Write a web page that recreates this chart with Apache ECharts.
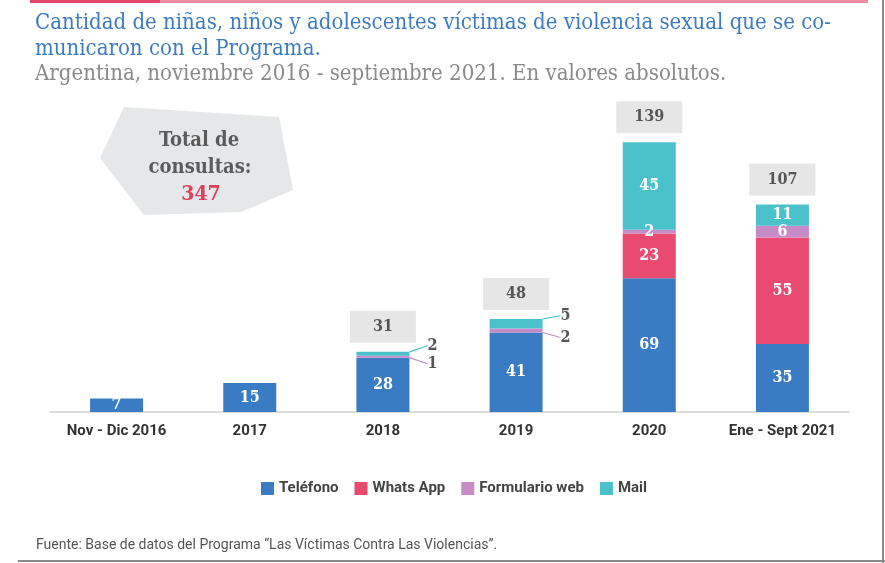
<!DOCTYPE html>
<html>
<head>
<meta charset="utf-8">
<script src="https://cdn.jsdelivr.net/npm/echarts@6/dist/echarts.min.js"></script>
<style>
html,body{margin:0;padding:0;background:#fff;}
#c{width:885px;height:563px;}
</style>
</head>
<body>
<div id="c"></div>
<script>
const categories = ['Nov - Dic 2016', '2017', '2018', '2019', '2020', 'Ene - Sept 2021'];
const telefono = [7, 15, 28, 41, 69, 35];
const whatsapp = [0, 0, 0, 0, 23, 55];
const formulario = [0, 0, 1, 2, 2, 6];
const mail = [0, 0, 2, 5, 45, 11];
const seriesNames = ['Teléfono', 'Whats App', 'Formulario web', 'Mail'];

const totals = categories.map((c, i) => telefono[i] + whatsapp[i] + formulario[i] + mail[i]);
const grandTotal = totals.reduce((a, b) => a + b, 0);

const COLORS = ['#3a7cc3', '#e94a6f', '#c68bc6', '#4bc1cb'];
const NUM_FONT = '"DejaVu Serif Condensed", "DejaVu Serif", serif';
const SANS_N = '"Roboto", sans-serif';

const insideLabel = {
  show: true, position: 'inside', color: '#fff', fontFamily: NUM_FONT,
  fontWeight: 'bold', fontSize: 16
};

function makeSeries(name, arr, color) {
  const outsideOffset = name === 'Mail' ? -8 : 7;
  const hasOutside = name === 'Mail' || name === 'Formulario web';
  return {
    name: name, type: 'bar', stack: 'total', barWidth: 53,
    itemStyle: { color: color },
    data: arr.map((v, i) => {
      if (v === 0) return '-';
      if (hasOutside && (i === 2 || i === 3)) {
        return {
          value: v,
          label: { show: true, position: 'right', color: '#555', fontFamily: NUM_FONT, fontWeight: 'bold', fontSize: 16 },
          labelLine: { show: true, lineStyle: { color: color, width: 1.2 } }
        };
      }
      return v;
    }),
    label: insideLabel,
    labelLayout: hasOutside ? function (p) {
      if (p.dataIndex === 2 || p.dataIndex === 3) {
        return {
          x: p.rect.x + p.rect.width + 18,
          y: p.rect.y + p.rect.height / 2 + outsideOffset,
          align: 'left', verticalAlign: 'middle'
        };
      }
      return {};
    } : undefined
  };
}

const series = [
  makeSeries(seriesNames[0], telefono, COLORS[0]),
  makeSeries(seriesNames[1], whatsapp, COLORS[1]),
  makeSeries(seriesNames[2], formulario, COLORS[2]),
  makeSeries(seriesNames[3], mail, COLORS[3]),
  {
    name: 'Total', type: 'bar', barGap: '-100%', barWidth: 53, silent: true, z: 1,
    itemStyle: { color: 'rgba(0,0,0,0)' },
    data: totals.map((v, i) => i >= 2 ? v : { value: v, label: { show: false } }),
    label: {
      show: true, position: 'top', distance: 9,
      backgroundColor: '#e6e6e7', color: '#555', fontFamily: NUM_FONT,
      fontWeight: 'bold', fontSize: 16, width: 50, align: 'center',
      lineHeight: 18, padding: [7, 8]
    }
  }
];

const chart = echarts.init(document.getElementById('c'), null, { renderer: 'canvas' });
chart.setOption({
  animation: false,
  backgroundColor: '#fff',
  title: {
    text: 'Cantidad de niñas, niños y adolescentes víctimas de violencia sexual que se co-\nmunicaron con el Programa.',
    subtext: 'Argentina, noviembre 2016 - septiembre 2021. En valores absolutos.',
    left: 30, top: 5, itemGap: 0,
    textStyle: { color: '#3d7cbf', fontFamily: NUM_FONT, fontWeight: 'normal', fontSize: 22, lineHeight: 26 },
    subtextStyle: { color: '#8a8a8a', fontFamily: NUM_FONT, fontSize: 22, lineHeight: 24 }
  },
  legend: {
    data: seriesNames, bottom: 62, left: 256,
    itemWidth: 13, itemHeight: 13, itemGap: 16, icon: 'rect',
    textStyle: { color: '#444', fontFamily: SANS_N, fontWeight: 'bold', fontSize: 15 }
  },
  grid: { left: 50, right: 36, top: 121, bottom: 151 },
  xAxis: {
    type: 'category', data: categories,
    axisLine: { lineStyle: { color: '#dcdcdc', width: 2 } },
    axisTick: { show: false },
    axisLabel: { interval: 0, color: '#333', fontFamily: SANS_N, fontWeight: 'bold', fontSize: 15, margin: 12 }
  },
  yAxis: { type: 'value', min: 0, max: 150, show: false, splitLine: { show: false } },
  graphic: [
    { type: 'rect', shape: { x: 30, y: 0, width: 838, height: 3 }, style: { fill: '#f28ca2' } },
    { type: 'rect', shape: { x: 30, y: 0, width: 130, height: 3 }, style: { fill: '#e4466a' } },
    { type: 'rect', shape: { x: 882, y: 0, width: 2, height: 563 }, style: { fill: '#8a8a8a' } },
    { type: 'rect', shape: { x: 18, y: 560, width: 867, height: 2 }, style: { fill: '#8a8a8a' } },
    {
      type: 'polygon', z: 0,
      shape: { points: [[124, 107], [279, 117], [293, 190], [241, 212], [144, 215], [100, 158]] },
      style: { fill: '#e6e7e9' }
    },
    {
      type: 'text', z: 2,
      style: { x: 199, y: 141, text: 'Total de', fill: '#5b5b5b', font: 'bold 20px ' + NUM_FONT, align: 'center', verticalAlign: 'middle' }
    },
    {
      type: 'text', z: 2,
      style: { x: 200, y: 168, text: 'consultas:', fill: '#5b5b5b', font: 'bold 20px ' + NUM_FONT, align: 'center', verticalAlign: 'middle' }
    },
    {
      type: 'text', z: 2,
      style: { x: 201, y: 195, text: String(grandTotal), fill: '#e0405f', font: 'bold 21px ' + NUM_FONT, align: 'center', verticalAlign: 'middle' }
    },
    {
      type: 'text', left: 36, top: 538,
      style: { text: 'Fuente: Base de datos del Programa “Las Víctimas Contra Las Violencias”.', fill: '#555', font: '14px ' + SANS_N }
    }
  ],
  series: series
});
</script>
</body>
</html>
